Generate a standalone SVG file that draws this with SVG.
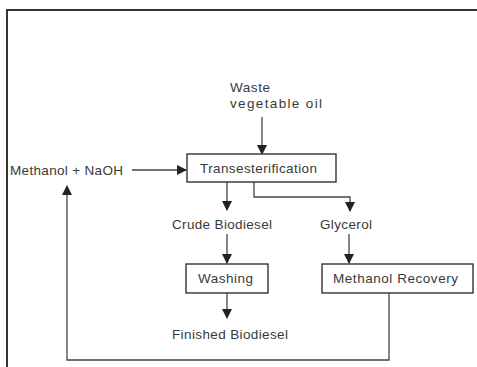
<svg xmlns="http://www.w3.org/2000/svg" width="477" height="367" viewBox="0 0 477 367">
<style>
text{font-family:"Liberation Sans",Arial,sans-serif;font-size:13.5px;fill:#3a3a3a}
.box{fill:#fff;stroke:#333;stroke-width:1.4}
.ln{fill:none;stroke:#444;stroke-width:1.3}
</style>
<defs>
<marker id="ah" markerWidth="10" markerHeight="10" refX="9" refY="5" orient="auto" markerUnits="userSpaceOnUse">
<path d="M0,0 L10,5 L0,10 Z" fill="#222"/>
</marker>
</defs>
<rect width="477" height="367" fill="#fff"/>
<g id="frame">
<path d="M7,367 V10 H477" fill="none" stroke="#333" stroke-width="2"/>
</g>
<g id="connectors">
<path class="ln" d="M262,117 V154" marker-end="url(#ah)"/>
<path class="ln" d="M132,170 H186" marker-end="url(#ah)"/>
<path class="ln" d="M227,182 V210" marker-end="url(#ah)"/>
<path class="ln" d="M254,182 V197 H350 V211" marker-end="url(#ah)"/>
<path class="ln" d="M227,234 V263" marker-end="url(#ah)"/>
<path class="ln" d="M349,234 V263" marker-end="url(#ah)"/>
<path class="ln" d="M227,293 V318" marker-end="url(#ah)"/>
<path class="ln" d="M389,293 V360 H67 V186" marker-end="url(#ah)"/>
</g>
<g id="waste"><text x="230" y="92" textLength="40">Waste</text><text x="230" y="108" textLength="92">vegetable oil</text></g>
<g id="methanol"><text x="10" y="175" textLength="113">Methanol + NaOH</text></g>
<g id="trans"><rect class="box" x="187" y="154" width="149" height="28"/><text x="200" y="173" textLength="117">Transesterification</text></g>
<g id="crude"><text x="172" y="229" textLength="100">Crude Biodiesel</text></g>
<g id="glycerol"><text x="320" y="229" textLength="52">Glycerol</text></g>
<g id="washing"><rect class="box" x="186" y="264" width="82" height="29"/><text x="198" y="283" textLength="55">Washing</text></g>
<g id="recovery"><rect class="box" x="322" y="264" width="151" height="29"/><text x="333" y="283" textLength="125">Methanol Recovery</text></g>
<g id="finished"><text x="172" y="339" textLength="116">Finished Biodiesel</text></g>
</svg>
